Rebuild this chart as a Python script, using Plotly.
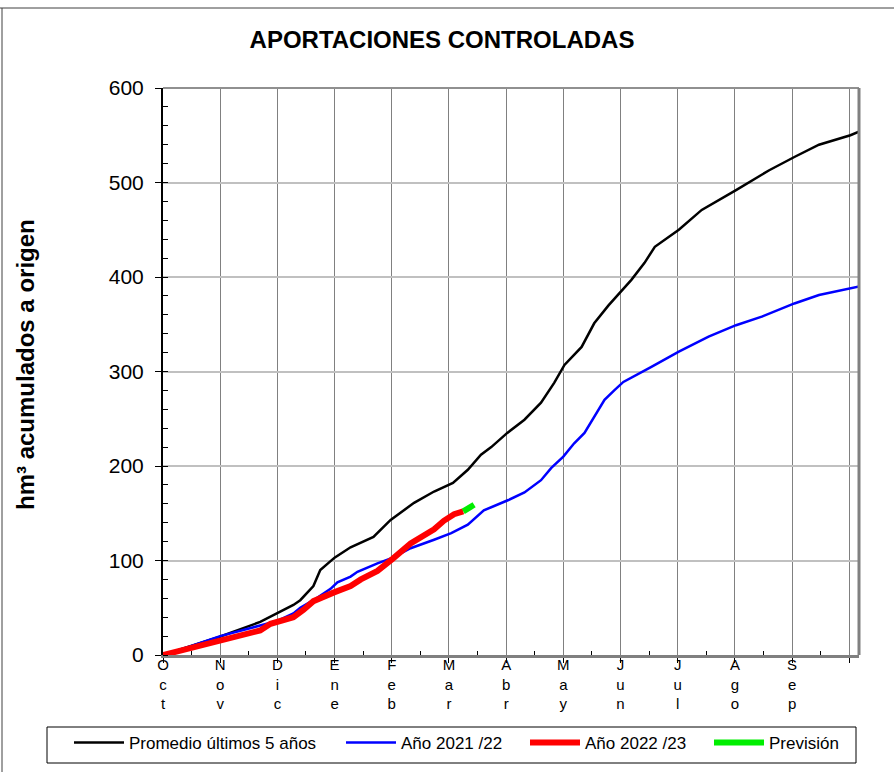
import plotly.graph_objects as go

# ---------------- data (x in months since 1 Oct) ----------------
month_labels = ["O<br>c<br>t", "N<br>o<br>v", "D<br>i<br>c", "E<br>n<br>e", "F<br>e<br>b", "M<br>a<br>r",
                "A<br>b<br>r", "M<br>a<br>y", "J<br>u<br>n", "J<br>u<br>l", "A<br>g<br>o", "S<br>e<br>p", ""]

avg_x = [0, 0.47, 0.98, 1.70, 2.0, 2.28, 2.40, 2.63, 2.75, 3.0, 3.28, 3.68, 3.98, 4.39, 4.74, 5.07, 5.33,
         5.56, 5.74, 6.02, 6.32, 6.61, 6.84, 7.02, 7.32, 7.54, 7.79, 8.02, 8.19, 8.42, 8.60, 9.02, 9.42,
         10.02, 10.60, 11.04, 11.47, 12.02, 12.18]
avg_y = [0, 9.5, 19, 35, 44, 53, 58, 73, 90, 103, 114, 125, 143, 161, 173, 182, 196,
         212, 220, 235, 249, 267, 288, 307, 326, 351, 370, 386, 397, 415, 432, 450, 471,
         492, 513, 527, 540, 550, 554]

y2122_x = [0, 0.47, 1.0, 1.70, 2.0, 2.28, 2.40, 2.63, 2.93, 3.05, 3.28, 3.40, 3.75, 4.02, 4.33, 4.74,
           5.04, 5.33, 5.61, 6.04, 6.32, 6.61, 6.79, 7.0, 7.19, 7.37, 7.54, 7.72, 7.89, 8.05, 8.54,
           9.02, 9.54, 10.02, 10.47, 11.04, 11.47, 12.02, 12.18]
y2122_y = [0, 9, 20, 31, 36, 44, 50, 58, 70, 77, 83, 88, 97, 103, 113, 122,
           129, 138, 153, 164, 172, 185, 198, 210, 224, 235, 252, 270, 280, 289, 305,
           321, 337, 349, 358, 372, 381, 388, 390]

y2223_x = [0, 0.47, 0.95, 1.30, 1.70, 1.88, 2.11, 2.28, 2.46, 2.63, 2.98, 3.28, 3.46, 3.75, 4.02,
           4.33, 4.74, 4.91, 5.09, 5.25]
y2223_y = [0, 7, 14, 19, 26, 33, 37, 40, 48, 57, 66, 73, 80, 89, 102,
           118, 133, 142, 149, 152]

prev_x = [5.25, 5.35, 5.44]
prev_y = [152, 156, 159]

names = ["Promedio últimos 5 años", "Año 2021 /22", "Año 2022 /23", "Previsión"]

# ---------------- figure ----------------
FONT = "Liberation Sans, Arial, sans-serif"
L, R, T, B = 163, 35, 88, 117
W, H = 894, 772
PW, PH = W - L - R, H - T - B


def px(xp):
    return (xp - L) / PW


def py(yp):
    return (H - B - yp) / PH


fig = go.Figure()
fig.add_trace(go.Scatter(x=avg_x, y=avg_y, mode="lines", name=names[0], legend="legend",
                         line=dict(color="#000000", width=2.5)))
fig.add_trace(go.Scatter(x=y2122_x, y=y2122_y, mode="lines", name=names[1], legend="legend2",
                         line=dict(color="#0000ff", width=2.5)))
fig.add_trace(go.Scatter(x=y2223_x, y=y2223_y, mode="lines", name=names[2], legend="legend3",
                         line=dict(color="#ff0000", width=6)))
fig.add_trace(go.Scatter(x=prev_x, y=prev_y, mode="lines", name=names[3], legend="legend4",
                         line=dict(color="#00ee00", width=6)))


def leg(xpix):
    return dict(orientation="h", x=px(xpix), xanchor="left", y=py(725), yanchor="top",
                font=dict(size=17, family=FONT), bgcolor="rgba(0,0,0,0)", borderwidth=0,
                itemwidth=50)


fig.update_layout(
    width=W, height=H,
    margin=dict(l=L, r=R, t=T, b=B, autoexpand=False),
    paper_bgcolor="white", plot_bgcolor="white",
    font=dict(family=FONT, color="black"),
    title=dict(text="<b>APORTACIONES CONTROLADAS</b>", x=442 / W, xanchor="center",
               xref="container", y=1 - 40 / H, yanchor="middle", yref="container",
               font=dict(size=24, family=FONT, color="black")),
    showlegend=True,
    legend=leg(69), legend2=leg(341), legend3=leg(525), legend4=leg(709),
    xaxis=dict(range=[0, 12.17], tickmode="array", tickvals=list(range(13)), ticktext=month_labels,
               showgrid=True, gridcolor="#808080", gridwidth=1, zeroline=False,
               showline=True, linecolor="#808080", linewidth=3,
               ticks="outside", ticklen=5, tickcolor="#000000", tickwidth=1,
               tickfont=dict(size=15, family=FONT), tickangle=0, ticklabelstandoff=-11,
               minor=dict(tickvals=[i + 0.5 for i in range(12)], ticks="inside", ticklen=4,
                          tickcolor="#000000", showgrid=False)),
    yaxis=dict(range=[0, 600], tickmode="linear", tick0=0, dtick=100,
               showgrid=True, gridcolor="#c0c0c0", gridwidth=2, zeroline=False,
               showline=True, linecolor="#000000", linewidth=2,
               ticks="outside", ticklen=6, tickcolor="#000000",
               tickfont=dict(size=21, family=FONT), ticklabelstandoff=7,
               minor=dict(dtick=20, ticks="inside", ticklen=5, tickcolor="#000000", showgrid=False)),
)

# plot frame (top & right) in grey
fig.add_shape(type="line", xref="paper", yref="paper", x0=0, x1=1, y0=1, y1=1,
              line=dict(color="#909090", width=2))
fig.add_shape(type="line", xref="paper", yref="paper", x0=1, x1=1, y0=0, y1=1,
              line=dict(color="#808080", width=3))

# legend box
fig.add_shape(type="rect", xref="paper", yref="paper", x0=px(47), x1=px(856), y0=py(727), y1=py(763),
              line=dict(color="#000000", width=1), fillcolor="rgba(0,0,0,0)")

# outer chart border (top and left)
fig.add_shape(type="line", xref="paper", yref="paper", x0=px(0), x1=px(894), y0=py(8), y1=py(8),
              line=dict(color="#404040", width=1))
fig.add_shape(type="line", xref="paper", yref="paper", x0=px(2), x1=px(2), y0=py(8), y1=py(772),
              line=dict(color="#404040", width=1))

# y-axis title
fig.add_annotation(text="<b>hm³ acumulados a origen</b>", xref="paper", yref="paper",
                   x=px(25), y=py(365), xanchor="center", yanchor="middle", textangle=-90,
                   showarrow=False, font=dict(size=24, family=FONT, color="black"))

fig.write_html("out.html", config={"displayModeBar": False},
               post_script="document.body.style.margin='0px';")
